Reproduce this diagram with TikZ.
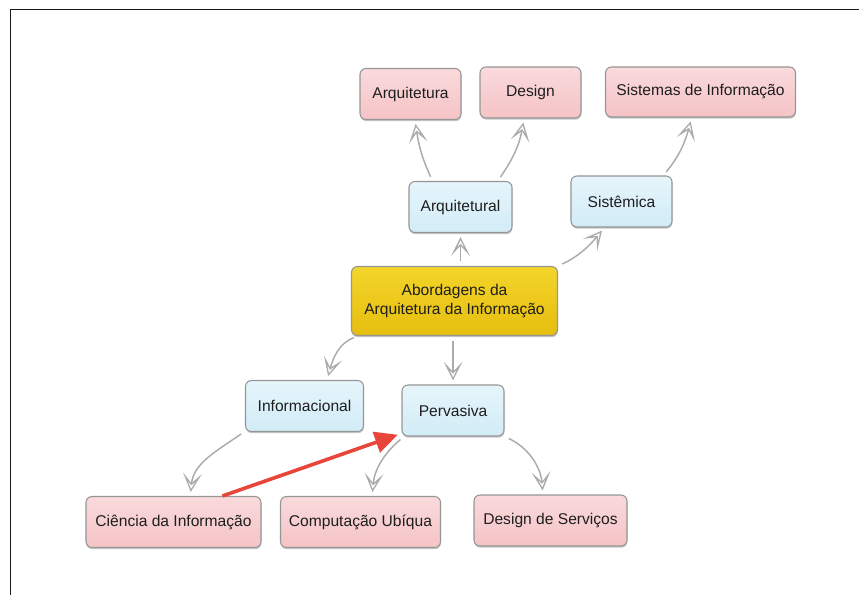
\documentclass[tikz,border=0pt]{standalone}
\usepackage{fontspec}
\setmainfont{Liberation Sans}
\usetikzlibrary{arrows.meta,shadows}
\definecolor{pinktop}{HTML}{FADADC}
\definecolor{pinkbot}{HTML}{F5C3C6}
\definecolor{bluetop}{HTML}{E6F5FB}
\definecolor{bluebot}{HTML}{D2ECF7}
\definecolor{yeltop}{HTML}{F3D52A}
\definecolor{yelbot}{HTML}{E6BE0E}
\definecolor{boxborder}{HTML}{959595}
\definecolor{textcol}{HTML}{1E1E1E}
\definecolor{arrowgray}{HTML}{ABABAB}
\definecolor{redarrow}{HTML}{E8453B}
\definecolor{framecol}{HTML}{1A1A1A}
\begin{document}
\begin{tikzpicture}[x=0.75pt,y=-0.75pt,
  wh/.style 2 args={minimum width=#1*0.75pt, minimum height=#2*0.75pt},
  box/.style={draw=boxborder, line width=0.8pt, rounded corners=4.5pt,
    align=center, font=\fontsize{11.7}{14.5}\selectfont, text=textcol,
    inner sep=0pt,
    drop shadow={shadow xshift=0.3pt, shadow yshift=-1.3pt, opacity=0.22, fill=black}},
  pinkbox/.style={box, top color=pinktop, bottom color=pinkbot},
  bluebox/.style={box, top color=bluetop, bottom color=bluebot},
  yelbox/.style={box, top color=yeltop, bottom color=yelbot},
  conn/.style={draw=arrowgray, line width=1.1pt, shorten <=3.5pt, shorten >=3pt,
    -{Stealth[open, length=14pt, width=14pt, inset=7.5pt, line width=1pt]}},
  redconn/.style={draw=redarrow, line width=2.7pt, shorten >=3pt,
    -{Triangle[length=17pt, width=16pt]}}
]
\useasboundingbox (0,0) rectangle (859,595);
% frame
\draw[framecol, line width=1.1pt] (10.7,595) -- (10.7,9.5) -- (859,9.5);

% nodes
\node[pinkbox, wh={101}{51}] (arq)  at (410.5,94)   {Arquitetura};
\node[pinkbox, wh={101}{51}] (des)  at (530.5,92.5) {Design};
\node[pinkbox, wh={190}{50}] (sis)  at (700.5,92)   {Sistemas de Informação};
\node[bluebox, wh={103}{51}] (arql) at (460.5,207)  {Arquitetural};
\node[bluebox, wh={101}{51}] (sist) at (621.5,201.5){Sistêmica};
\node[yelbox,  wh={206}{69}] (abo)  at (454.5,301)  {Abordagens da\\Arquitetura da Informação};
\node[bluebox, wh={118}{51}] (inf)  at (304.5,406)  {Informacional};
\node[bluebox, wh={102}{51}] (per)  at (453,410.5)  {Pervasiva};
\node[pinkbox, wh={175}{51}] (cie)  at (173.5,522)  {Ciência da Informação};
\node[pinkbox, wh={160}{51}] (com)  at (360.5,522)  {Computação Ubíqua};
\node[pinkbox, wh={153}{51}] (dse)  at (550.5,520.5){Design de Serviços};

% connectors
\draw[conn] (arql.137) to[out=115,in=-82] (arq.-80);
\draw[conn] (arql.35) to[out=55,in=-100] (des.256);
\draw[conn] (sist.32) to[out=50,in=-105] (sis.251);
\draw[conn] (abo.north -| arql.south) -- (arql.south);
\draw[conn] (abo.north east) to[out=25,in=-130] (sist.237);
\draw[conn] (abo.200) to[out=200,in=75] (inf.49);
\draw[conn] (abo.south -| per.north) -- (per.north);
\draw[conn] (inf.203) to[out=215,in=85] (cie.57);
\draw[conn] (per.208) to[out=220,in=85] (com.66);
\draw[conn] (per.south east) to[out=-25,in=95] (dse.106);
\draw[redconn] (cie.28) -- (per.204);
\end{tikzpicture}
\end{document}
